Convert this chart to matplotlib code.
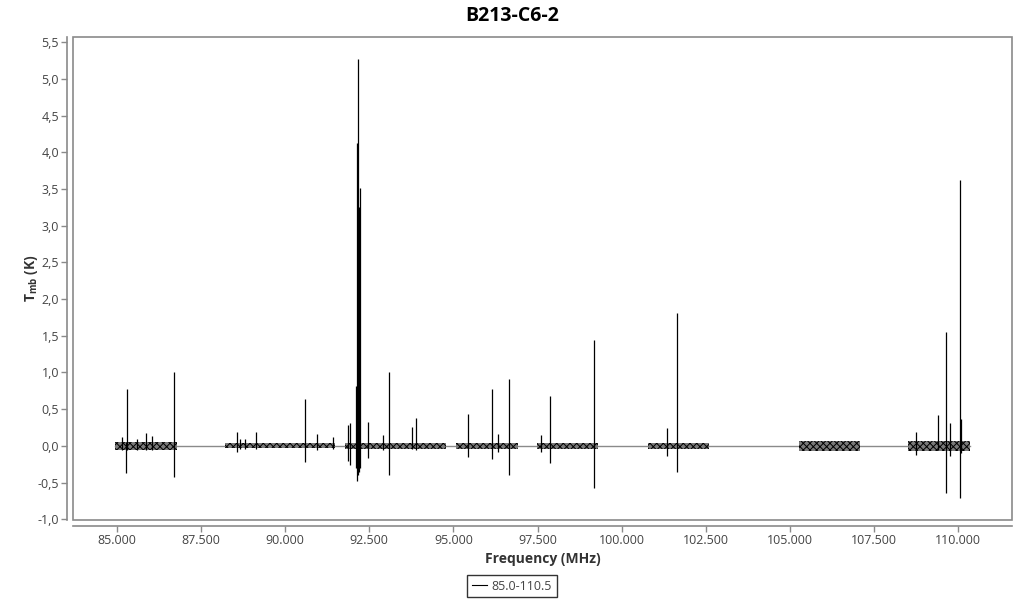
import matplotlib
matplotlib.use("Agg")
import matplotlib.pyplot as plt
from matplotlib.lines import Line2D
from matplotlib.patches import Rectangle
from matplotlib.ticker import FuncFormatter, MultipleLocator

plt.rcParams['font.family'] = ['Open Sans', 'DejaVu Sans']
plt.rcParams['hatch.linewidth'] = 0.7

title = "B213-C6-2"
series_name = "85.0-110.5"

# observed noisy frequency segments (MHz) and their noise half-width (K)
seg_start = [84941, 88210, 91778, 95077, 97485, 100785, 105273, 108514]
seg_end = [86784, 91481, 94780, 96920, 99298, 102598, 107087, 110357]
seg_noise = [0.05, 0.035, 0.04, 0.04, 0.04, 0.04, 0.07, 0.07]

# spectral line spikes: frequency (MHz), peak (K), dip (K)
line_freq = [85140, 85276, 85306, 85603, 85871, 86049, 86703,
             88576, 88665, 88805, 89141, 90597, 90936, 91421,
             91880, 91940, 92114, 92145, 92173, 92200, 92238, 92461,
             92916, 93094, 93778, 93879,
             95443, 96147, 96335, 96653,
             97613, 97881, 99189,
             101358, 101638,
             108751, 109414, 109634, 109753, 110050, 110088]
line_top = [0.12, 0.05, 0.77, 0.09, 0.18, 0.14, 1.00,
            0.19, 0.10, 0.09, 0.19, 0.64, 0.16, 0.12,
            0.28, 0.31, 0.81, 4.13, 5.27, 3.25, 3.51, 0.33,
            0.15, 1.01, 0.26, 0.38,
            0.44, 0.77, 0.16, 0.91,
            0.15, 0.68, 1.44,
            0.24, 1.81,
            0.19, 0.42, 1.55, 0.31, 3.62, 0.37]
line_bottom = [-0.05, -0.37, -0.05, -0.05, -0.06, -0.05, -0.42,
               -0.08, -0.04, -0.04, -0.04, -0.22, -0.05, -0.04,
               -0.20, -0.26, -0.30, -0.48, -0.40, -0.35, -0.30, -0.17,
               -0.05, -0.40, -0.04, -0.05,
               -0.15, -0.18, -0.08, -0.40,
               -0.08, -0.24, -0.57,
               -0.14, -0.36,
               -0.12, -0.05, -0.64, -0.14, -0.71, -0.10]

x_ticks = [85000, 87500, 90000, 92500, 95000, 97500, 100000, 102500, 105000, 107500, 110000]

fig = plt.figure(figsize=(10.24, 6.0), dpi=100)
ax = fig.add_axes([73 / 1024, 1 - 520 / 600, (1012 - 73) / 1024, (520 - 37) / 600])

# zero baseline joining the segments
ax.plot([seg_start[0], seg_end[-1]], [0, 0], color='#8a8a8a', lw=1.0, zorder=1)

# noise bands
for s, e, n in zip(seg_start, seg_end, seg_noise):
    ax.fill_between([s, e], [-n, -n], [n, n], facecolor='#7a7a7a',
                    edgecolor='black', hatch='xxxxx', linewidth=0, zorder=2)

# spikes
ax.vlines(line_freq, line_bottom, line_top, color='black', lw=0.9, zorder=3)

ax.set_xlim(83692, 111605)
ax.set_ylim(-1.01, 5.57)

def xfmt(v, pos):
    return f"{v:,.0f}".replace(",", ".")

def yfmt(v, pos):
    return f"{v:.1f}".replace(".", ",")

ax.set_xticks(x_ticks)
ax.xaxis.set_major_formatter(FuncFormatter(xfmt))
ax.yaxis.set_major_locator(MultipleLocator(0.5))
ax.yaxis.set_major_formatter(FuncFormatter(yfmt))

gray = '#8a8a8a'
for side in ['top', 'right']:
    ax.spines[side].set_visible(False)
for side in ['left', 'bottom']:
    ax.spines[side].set_position(('outward', 4))
    ax.spines[side].set_color(gray)
    ax.spines[side].set_linewidth(1.2)
ax.add_patch(Rectangle((0, 0), 1, 1, transform=ax.transAxes, fill=False,
                       edgecolor=gray, lw=1.2, clip_on=False, zorder=5))

ax.tick_params(axis='both', colors=gray, labelcolor='#444444', labelsize=9,
               length=4, width=1, pad=2)

ax.set_xlabel("Frequency (MHz)", fontsize=10, fontweight='bold', color='#333333', labelpad=4)
ax.set_ylabel(r"T$_{\mathregular{mb}}$ (K)", fontsize=10, fontweight='bold', color='#333333')
ax.yaxis.set_label_coords(-0.035, 0.5)
fig.suptitle(title, fontsize=14, fontweight='bold', y=0.99, va='top')

handle = Line2D([0], [0], color='black', lw=0.8)
leg = fig.legend([handle], [series_name], loc='center', bbox_to_anchor=(512 / 1024, 1 - 586 / 600),
                 frameon=True, fancybox=False, edgecolor='black', fontsize=9,
                 handlelength=1.2, handletextpad=0.4, borderpad=0.35)
leg.get_frame().set_linewidth(1.0)
for t in leg.get_texts():
    t.set_color('#444444')

fig.savefig("out.png", dpi=100)
